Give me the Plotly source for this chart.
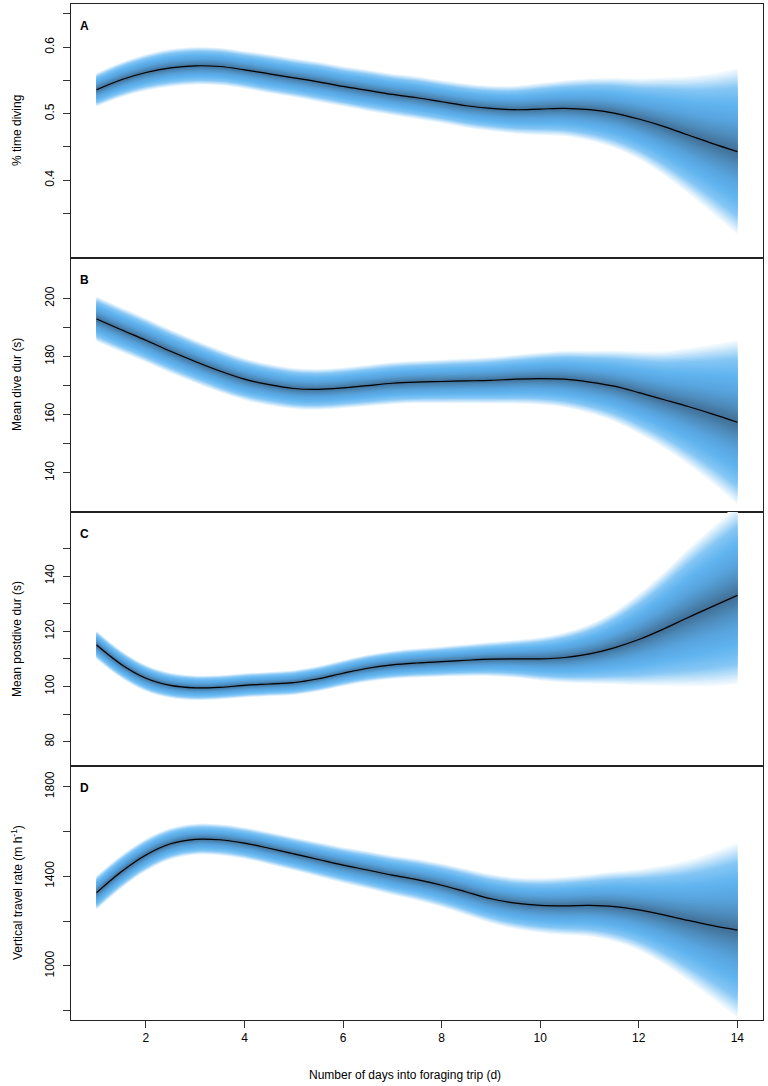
import numpy as np
import plotly.graph_objects as go

# ---------------- data ----------------
days = [1, 1.5, 2, 2.5, 3, 3.5, 4, 4.5, 5, 5.5, 6, 6.5, 7, 7.5, 8, 8.5, 9, 9.5,
        10, 10.5, 11, 11.5, 12, 12.5, 13, 13.5, 14]

# Panel A: % time diving (posterior mean and envelope half-width)
pct_mean = [0.536, 0.551, 0.562, 0.569, 0.572, 0.571, 0.566, 0.560, 0.554, 0.548,
            0.541, 0.535, 0.529, 0.524, 0.518, 0.512, 0.508, 0.506, 0.507, 0.508,
            0.506, 0.501, 0.492, 0.481, 0.468, 0.455, 0.443]
pct_half = [0.026, 0.027, 0.028, 0.029, 0.029, 0.029, 0.029, 0.030, 0.030, 0.031,
            0.031, 0.032, 0.032, 0.033, 0.033, 0.034, 0.035, 0.037, 0.040, 0.043,
            0.048, 0.054, 0.062, 0.075, 0.090, 0.108, 0.128]

# Panel B: mean dive duration (s)
dive_mean = [192.9, 189.2, 185.6, 181.8, 178.3, 175.0, 172.2, 170.3, 169.0, 168.7,
             169.2, 170.0, 170.8, 171.2, 171.4, 171.6, 171.8, 172.2, 172.4, 172.2,
             171.2, 169.8, 167.6, 165.2, 162.8, 160.2, 157.4]
dive_half = [8.0, 7.9, 7.8, 7.7, 7.6, 7.5, 7.4, 7.3, 7.2, 7.2, 7.2, 7.3, 7.4, 7.5,
             7.7, 7.9, 8.2, 8.6, 9.2, 10.0, 11.0, 12.5, 14.5, 17.0, 20.5, 24.5, 29.0]

# Panel C: mean postdive duration (s)
post_mean = [115.0, 108.0, 103.0, 100.4, 99.5, 99.7, 100.4, 100.9, 101.4, 102.8,
             104.8, 106.6, 107.8, 108.5, 109.0, 109.5, 109.9, 110.0, 110.0, 110.5,
             111.8, 114.0, 117.0, 120.8, 125.0, 129.0, 133.0]
post_half = [5.3, 5.1, 4.9, 4.7, 4.6, 4.5, 4.5, 4.5, 4.6, 4.7, 4.8, 5.0, 5.2, 5.4,
             5.6, 5.9, 6.3, 7.0, 8.0, 9.3, 11.0, 13.5, 17.0, 21.0, 25.5, 29.5, 33.0]

# Panel D: vertical travel rate (m h^-1)
vert_mean = [1327, 1420, 1495, 1545, 1565, 1563, 1548, 1525, 1500, 1475, 1450, 1428,
             1405, 1385, 1360, 1330, 1300, 1280, 1270, 1268, 1270, 1265, 1250, 1228,
             1203, 1180, 1160]
vert_half = [78, 76, 74, 72, 71, 71, 72, 74, 76, 79, 82, 86, 90, 95, 100, 106, 112,
             118, 125, 133, 142, 160, 185, 225, 275, 335, 400]

panel_letters = ["A", "B", "C", "D"]
y_titles = ["% time diving", "Mean dive dur (s)", "Mean postdive dur (s)",
            "Vertical travel rate (m h<sup>-1</sup>)"]
y_ranges = [[0.283, 0.665], [126.5, 213.9], [71.2, 163.2], [759, 1892]]
y_tickvals = [[0.35, 0.4, 0.45, 0.5, 0.55, 0.6, 0.65],
              [140, 150, 160, 170, 180, 190, 200],
              [80, 90, 100, 110, 120, 130, 140, 150],
              [800, 1000, 1200, 1400, 1600, 1800]]
y_ticktext = [[" ", "0.4", " ", "0.5", " ", "0.6", " "],
              ["140", " ", "160", " ", "180", " ", "200"],
              ["80", " ", "100", " ", "120", " ", "140", " "],
              [" ", "1000", " ", "1400", " ", "1800"]]
x_tickvals = [2, 4, 6, 8, 10, 12, 14]
x_label = "Number of days into foraging trip (d)"

means = [pct_mean, dive_mean, post_mean, vert_mean]
halves = [pct_half, dive_half, post_half, vert_half]

# ---------------- styling ----------------
W, H = 768, 1086
L, R, T, B = 71, 5, 4, 66
FONT = "Liberation Sans, Arial, sans-serif"

stops = [(1.00, (255, 255, 255)), (0.90, (205, 232, 251)), (0.76, (132, 198, 245)),
         (0.56, (96, 180, 239)), (0.36, (88, 164, 222)), (0.18, (78, 140, 188)),
         (0.00, (64, 108, 146))]


def color_at(f):
    for (f1, c1), (f2, c2) in zip(stops[:-1], stops[1:]):
        if f2 <= f <= f1:
            t = (f1 - f) / (f1 - f2)
            c = [round(a + (b - a) * t) for a, b in zip(c1, c2)]
            return "rgb(%d,%d,%d)" % tuple(c)
    return "rgb(%d,%d,%d)" % stops[-1][1]


levels = np.linspace(1.0, 0.02, 42)

fig = go.Figure()
n = 4
for i in range(n):
    xa = "x" if i == 0 else "x%d" % (i + 1)
    ya = "y" if i == 0 else "y%d" % (i + 1)
    m = np.array(means[i], dtype=float)
    h = np.array(halves[i], dtype=float)
    for f in levels:
        col = color_at(f)
        fig.add_trace(go.Scatter(x=days, y=m - f * h, mode="lines",
                                 line=dict(width=0, shape="spline", color=col),
                                 xaxis=xa, yaxis=ya, hoverinfo="skip",
                                 showlegend=False))
        fig.add_trace(go.Scatter(x=days, y=m + f * h, mode="lines",
                                 line=dict(width=0, shape="spline", color=col),
                                 fill="tonexty", fillcolor=col,
                                 xaxis=xa, yaxis=ya, hoverinfo="skip",
                                 showlegend=False))
    fig.add_trace(go.Scatter(x=days, y=means[i], mode="lines",
                             line=dict(width=1.2, shape="spline", color="black"),
                             xaxis=xa, yaxis=ya, showlegend=False))

layout = dict(width=W, height=H,
              margin=dict(l=L, r=R, t=T, b=B, autoexpand=False),
              plot_bgcolor="white", paper_bgcolor="white",
              font=dict(family=FONT, size=12, color="black"))
ph = H - T - B
annotations = []
for i in range(n):
    k = "" if i == 0 else str(i + 1)
    top = 1 - i / n
    bot = 1 - (i + 1) / n
    last = (i == n - 1)
    layout["xaxis" + k] = dict(
        domain=[0, 1], anchor="y" + k, range=[0.48, 14.52], automargin=False,
        showgrid=False, zeroline=False, showline=True, mirror=True,
        linecolor="#222", linewidth=1,
        tickvals=x_tickvals if last else [],
        ticks="outside" if last else "", ticklen=7, tickcolor="#333",
        showticklabels=last, tickfont=dict(size=12),
        matches=None if i == 0 else "x")
    layout["yaxis" + k] = dict(
        domain=[bot, top], anchor="x" + k, range=y_ranges[i], automargin=False,
        showgrid=False, zeroline=False, showline=True, mirror=True,
        linecolor="#222", linewidth=1,
        tickvals=y_tickvals[i], ticktext=y_ticktext[i], tickangle=-90,
        ticks="outside", ticklen=7, tickcolor="#333",
        tickfont=dict(size=12), ticklabelstandoff=4)
    annotations.append(dict(text="<b>%s</b>" % panel_letters[i], xref="paper",
                            yref="paper", x=(84 - L) / (W - L - R),
                            y=top - 22 / ph, xanchor="center", yanchor="middle",
                            showarrow=False, font=dict(size=12)))
    annotations.append(dict(text=y_titles[i], xref="paper", yref="paper",
                            x=(17 - L) / (W - L - R), y=(top + bot) / 2,
                            xanchor="center", yanchor="middle", textangle=-90,
                            showarrow=False, font=dict(size=12)))
annotations.append(dict(text=x_label, xref="paper", yref="paper",
                        x=(405 - L) / (W - L - R), y=-(1075 - (H - B)) / ph,
                        xanchor="center", yanchor="middle", showarrow=False,
                        font=dict(size=12)))
layout["annotations"] = annotations
fig.update_layout(**layout)
fig.write_html("out.html", config={"displayModeBar": False},
               post_script="document.body.style.margin='0';"
                           "document.body.style.overflow='hidden';")
